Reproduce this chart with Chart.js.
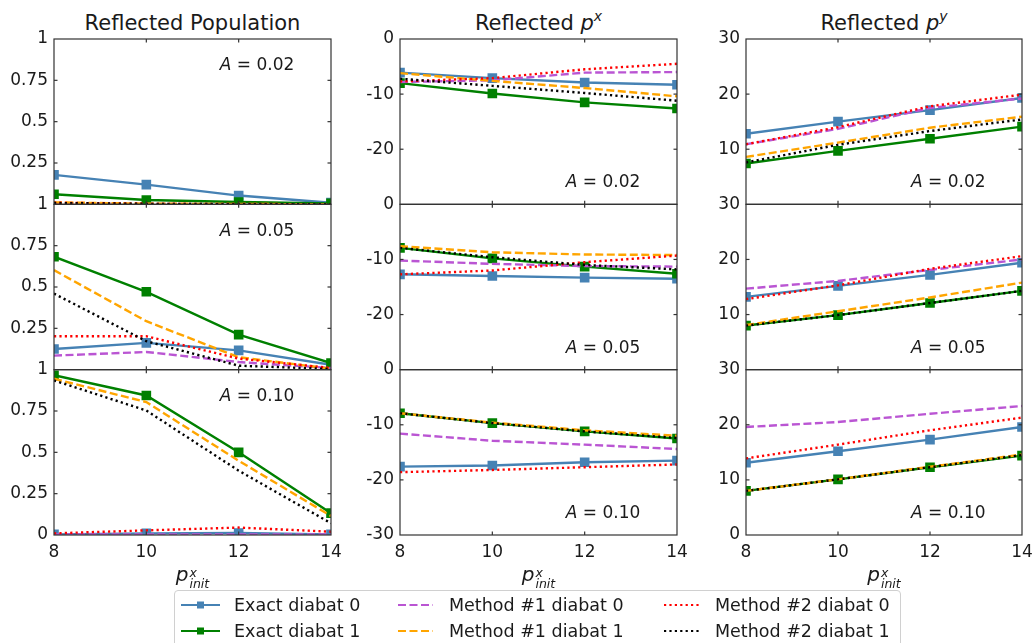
<!DOCTYPE html>
<html>
<head>
<meta charset="utf-8">
<script src="https://cdn.jsdelivr.net/npm/chart.js@4"></script>
<style>
html, body { margin: 0; padding: 0; width: 1033px; height: 643px; overflow: hidden; background: #fff;
  font-family: 'DejaVu Sans', sans-serif; color: #1a1a1a; }
canvas { position: absolute; }
.title { position: absolute; top: 11px; font-size: 21px; transform: translateX(-50%); white-space: nowrap; }
.title sup { font-size: 14px; font-style: italic; vertical-align: 9px; line-height: 0; }
.xl { position: absolute; top: 564px; transform: translateX(-50%); font-size: 20px; line-height: 1; white-space: nowrap; }
.xl .ss { display: inline-block; vertical-align: -7px; font-size: 12.5px; line-height: 11px; font-style: italic; margin-left: 1px; }
.xl .ss span { display: block; }
#legend { position: absolute; left: 174px; top: 590px; width: 727px; height: 70px; border: 1px solid #d0d0d0; border-radius: 4px; box-sizing: border-box; }
.item { position: absolute; height: 24px; font-size: 17.5px; line-height: 24px; white-space: nowrap; }
.item svg { position: absolute; top: 7px; }
.item span { position: absolute; }
</style>
</head>
<body>
<div class="title" style="left:192.5px">Reflected Population</div>
<div class="title" style="left:538.5px">Reflected <i>p</i><sup>x</sup></div>
<div class="title" style="left:884px">Reflected <i>p</i><sup>y</sup></div>

<canvas id="colPop" width="343" height="550" style="left:0px;top:25px"></canvas>
<canvas id="colPx" width="343" height="550" style="left:346px;top:25px"></canvas>
<canvas id="colPy" width="342" height="550" style="left:692px;top:25px"></canvas>

<div class="xl" style="left:192.5px"><i>p</i><span class="ss"><span>x</span><span>init</span></span></div>
<div class="xl" style="left:538.5px"><i>p</i><span class="ss"><span>x</span><span>init</span></span></div>
<div class="xl" style="left:884px"><i>p</i><span class="ss"><span>x</span><span>init</span></span></div>

<div id="legend"></div>

<script>
// x values and panel labels
const pxInit = [8, 10, 12, 14];
const amps = ['0.02', '0.05', '0.10'];

// series names / styles (legend order)
const seriesNames = ['Exact diabat 0', 'Exact diabat 1', 'Method #1 diabat 0', 'Method #1 diabat 1', 'Method #2 diabat 0', 'Method #2 diabat 1'];
const seriesColors = ['#4682b4', '#008000', '#ba55d3', '#ffa500', '#ff0000', '#000000'];
const seriesDash = [[], [], [8, 3.5], [8, 3.5], [2.2, 3.2], [2.2, 3.2]];
const seriesMarker = [true, true, false, false, false, false];

// Reflected population, rows = A 0.02 / 0.05 / 0.10
const popExact0 = [[0.178, 0.119, 0.053, 0.010], [0.125, 0.162, 0.117, 0.030], [0.004, 0.010, 0.012, 0.004]];
const popExact1 = [[0.061, 0.026, 0.014, 0.006], [0.683, 0.471, 0.212, 0.040], [0.966, 0.844, 0.500, 0.132]];
const popM1d0   = [[0.006, 0.002, 0.001, 0.001], [0.085, 0.107, 0.046, 0.010], [0.003, 0.003, 0.003, 0.003]];
const popM1d1   = [[0.012, 0.004, 0.002, 0.001], [0.602, 0.293, 0.075, 0.006], [0.945, 0.804, 0.449, 0.115]];
const popM2d0   = [[0.010, 0.003, 0.002, 0.001], [0.202, 0.202, 0.067, 0.010], [0.010, 0.028, 0.045, 0.020]];
const popM2d1   = [[0.008, 0.003, 0.001, 0.001], [0.460, 0.172, 0.024, 0.004], [0.935, 0.753, 0.389, 0.071]];

// Reflected p^x
const pxExact0 = [[-6.1, -7.1, -7.9, -8.3], [-12.7, -13.0, -13.3, -13.5], [-17.6, -17.4, -16.8, -16.5]];
const pxExact1 = [[-8.0, -9.9, -11.5, -12.6], [-7.9, -9.8, -11.3, -12.6], [-7.9, -9.7, -11.2, -12.5]];
const pxM1d0   = [[-7.8, -7.5, -6.1, -6.0], [-10.2, -10.8, -11.2, -11.3], [-11.6, -12.9, -13.6, -14.4]];
const pxM1d1   = [[-6.2, -7.6, -8.9, -10.4], [-7.6, -8.7, -9.1, -9.2], [-7.9, -9.6, -11.0, -12.0]];
const pxM2d0   = [[-7.7, -7.1, -5.5, -4.5], [-12.7, -12.0, -10.5, -9.3], [-18.6, -18.2, -17.7, -17.2]];
const pxM2d1   = [[-7.2, -8.5, -9.8, -11.2], [-7.9, -9.6, -11.0, -11.8], [-7.9, -9.7, -11.2, -12.4]];

// Reflected p^y
const pyExact0 = [[12.8, 15.0, 17.1, 19.3], [13.2, 15.2, 17.2, 19.4], [13.1, 15.2, 17.3, 19.6]];
const pyExact1 = [[7.4, 9.7, 11.9, 14.1], [8.0, 9.9, 12.1, 14.3], [8.0, 10.1, 12.3, 14.4]];
const pyM1d0   = [[10.9, 13.7, 17.5, 19.2], [14.7, 16.1, 18.1, 20.0], [19.6, 20.5, 22.0, 23.4]];
const pyM1d1   = [[8.6, 11.2, 13.9, 15.9], [8.1, 10.6, 13.1, 15.8], [8.0, 10.1, 12.4, 14.6]];
const pyM2d0   = [[10.9, 14.0, 17.8, 19.9], [12.8, 15.3, 18.3, 20.6], [13.9, 16.4, 19.0, 21.3]];
const pyM2d1   = [[7.6, 10.8, 13.3, 15.4], [8.0, 9.9, 12.1, 14.3], [8.0, 10.1, 12.3, 14.5]];

Chart.defaults.font.family = 'DejaVu Sans';
Chart.defaults.color = '#1a1a1a';

const TICK_FONT = { family: 'DejaVu Sans', size: 17 };

// frame, inward ticks, per-panel clipping and "A = ..." labels
function panelPlugin(annX, annY) {
    return {
        id: 'panels',
        beforeDatasetDraw(chart, args) {
            const ys = chart.scales[args.meta.yAxisID];
            const a = chart.chartArea;
            chart.ctx.save();
            chart.ctx.beginPath();
            chart.ctx.rect(a.left, ys.top, a.right - a.left, ys.bottom - ys.top);
            chart.ctx.clip();
        },
        afterDatasetDraw(chart) {
            chart.ctx.restore();
        },
        afterDraw(chart) {
            const ctx = chart.ctx;
            const xs = chart.scales.x;
            const { left, right } = chart.chartArea;
            const tl = 3.5;
            ctx.save();
            ctx.strokeStyle = '#333';
            ctx.lineWidth = 1.2;
            const seg = (x1, y1, x2, y2) => { ctx.beginPath(); ctx.moveTo(x1, y1); ctx.lineTo(x2, y2); ctx.stroke(); };
            ['y1', 'y2', 'y3'].forEach((id, r) => {
                const ys = chart.scales[id];
                ctx.strokeRect(left, ys.top, right - left, ys.bottom - ys.top);
                ys.ticks.forEach(t => {
                    const py = ys.getPixelForValue(t.value);
                    if (py <= ys.top + 1 || py >= ys.bottom - 1) return;
                    seg(left, py, left + tl, py);
                    seg(right, py, right - tl, py);
                });
                xs.ticks.forEach(t => {
                    const px = xs.getPixelForValue(t.value);
                    if (px <= left + 1 || px >= right - 1) return;
                    seg(px, ys.top, px, ys.top + tl);
                    seg(px, ys.bottom, px, ys.bottom - tl);
                });

                // annotation
                const cx = left + annX * (right - left);
                const cy = ys.top + annY * (ys.bottom - ys.top);
                const rest = ' = ' + amps[r];
                ctx.fillStyle = '#1a1a1a';
                ctx.textBaseline = 'middle';
                ctx.textAlign = 'left';
                ctx.font = 'italic 17px "DejaVu Sans"';
                const wA = ctx.measureText('A').width;
                ctx.font = '17px "DejaVu Sans"';
                const wR = ctx.measureText(rest).width;
                const x0 = cx - (wA + wR) / 2;
                ctx.font = 'italic 17px "DejaVu Sans"';
                ctx.fillText('A', x0, cy);
                ctx.font = '17px "DejaVu Sans"';
                ctx.fillText(rest, x0 + wA, cy);
            });
            ctx.restore();
        }
    };
}

function yAxis(min, max, step, weight, showMin) {
    return {
        type: 'linear', position: 'left', stack: 'col', stackWeight: 1, weight: weight,
        min: min, max: max,
        border: { display: false },
        grid: { display: false, drawTicks: false },
        ticks: {
            stepSize: step, padding: 6, autoSkip: false, color: '#1a1a1a', font: TICK_FONT,
            callback: v => (v === min && !showMin) ? '' : String(v)
        },
        afterFit: s => { s.width = 54; s.paddingTop = 0; s.paddingBottom = 0; }
    };
}

function buildColumn(canvasId, series, yMin, yMax, yStep, annY) {
    const datasets = [];
    series.forEach((rows, k) => {
        rows.forEach((vals, r) => {
            datasets.push({
                label: seriesNames[k] + ' A=' + amps[r],
                data: pxInit.map((x, i) => ({ x: x, y: vals[i] })),
                yAxisID: 'y' + (r + 1),
                borderColor: seriesColors[k],
                backgroundColor: seriesColors[k],
                borderWidth: 2.4,
                borderDash: seriesDash[k],
                pointStyle: 'rect',
                pointRadius: seriesMarker[k] ? 6.8 : 0,
                pointHoverRadius: 0,
                pointBorderWidth: 0,
                tension: 0,
                order: 5 - k
            });
        });
    });

    return new Chart(document.getElementById(canvasId), {
        type: 'line',
        data: { datasets: datasets },
        options: {
            responsive: false,
            animation: false,
            layout: { padding: { top: 14, right: 12, left: 0, bottom: 0 } },
            plugins: { legend: { display: false }, tooltip: { enabled: false } },
            scales: {
                x: {
                    type: 'linear', position: 'bottom', min: 8, max: 14,
                    border: { display: false },
                    grid: { display: false, drawTicks: false },
                    ticks: { stepSize: 2, padding: 7, maxRotation: 0, autoSkip: false, color: '#1a1a1a', font: TICK_FONT },
                    afterFit: s => { s.height = 40; s.paddingLeft = 0; s.paddingRight = 0; }
                },
                y1: yAxis(yMin, yMax, yStep, 3, false),
                y2: yAxis(yMin, yMax, yStep, 2, false),
                y3: yAxis(yMin, yMax, yStep, 1, true)
            }
        },
        plugins: [panelPlugin(0.733, annY)]
    });
}

buildColumn('colPop', [popExact0, popExact1, popM1d0, popM1d1, popM2d0, popM2d1], 0, 1, 0.25, 0.162);
buildColumn('colPx', [pxExact0, pxExact1, pxM1d0, pxM1d1, pxM2d0, pxM2d1], -30, 0, 10, 0.871);
buildColumn('colPy', [pyExact0, pyExact1, pyM1d0, pyM1d1, pyM2d0, pyM2d1], 0, 30, 10, 0.871);

// legend (3 columns, 2 rows, matplotlib column-major order)
const legendCols = [6, 223, 489];
const legendRows = [2, 28];
const legend = document.getElementById('legend');
legend.innerHTML = seriesNames.map((name, k) => {
    const col = Math.floor(k / 2), row = k % 2;
    const w = seriesMarker[k] ? 39 : 35;
    const dash = seriesDash[k].length ? `stroke-dasharray="${seriesDash[k].join(' ')}"` : '';
    const mark = seriesMarker[k] ? `<rect x="${w / 2 - 3.5}" y="1.5" width="7" height="7" fill="${seriesColors[k]}"/>` : '';
    return `<div class="item" style="left:${legendCols[col]}px;top:${legendRows[row]}px">
        <svg width="${w}" height="10"><line x1="0" y1="5" x2="${w}" y2="5" stroke="${seriesColors[k]}" stroke-width="2" ${dash}/>${mark}</svg>
        <span style="left:${w + (seriesMarker[k] ? 14 : 16)}px">${name}</span></div>`;
}).join('');
</script>
</body>
</html>
